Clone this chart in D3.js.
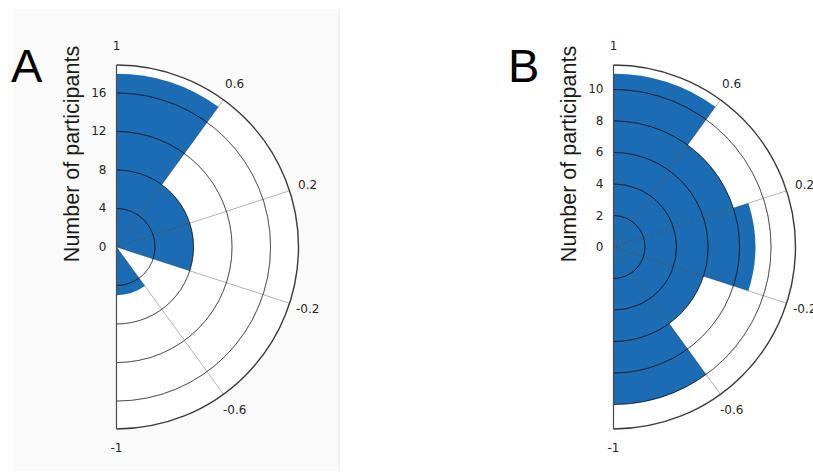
<!DOCTYPE html>
<html>
<head>
<meta charset="utf-8">
<script src="https://cdn.jsdelivr.net/npm/d3@7"></script>
<style>
  html, body { margin: 0; padding: 0; background: #ffffff; }
  svg { display: block; }
</style>
</head>
<body>
<svg id="chart" width="813" height="473"></svg>
<script>
// ---- data ----
const binEdges = [1, 0.6, 0.2, -0.2, -0.6, -1];
const angleTickLabels = ["1", "0.6", "0.2", "-0.2", "-0.6", "-1"];
const angleTickValues = [1, 0.6, 0.2, -0.2, -0.6, -1];
const countsA = [18, 8, 8, 0, 5];
const countsB = [11, 8, 9, 6, 10];
const radialTicksA = [0, 4, 8, 12, 16];
const radialTicksB = [0, 2, 4, 6, 8, 10];
const panelLetters = ["A", "B"];
const yAxisTitle = "Number of participants";

// ---- layout ----
const svg = d3.select("#chart");
const outerR = 182;
const barColor = "#1c6cb4";

// light panel background behind A
svg.append("rect").attr("x", 13).attr("y", 9).attr("width", 325).attr("height", 462)
  .attr("fill", "#fafafa");
svg.append("line").attr("x1", 339).attr("x2", 339).attr("y1", 9).attr("y2", 471)
  .attr("stroke", "#f0f0f0").attr("stroke-width", 2);

const panels = [
  { cx: 116.5, cy: 247, counts: countsA, ticks: radialTicksA, letter: panelLetters[0], letterX: 11 },
  { cx: 613.5, cy: 247, counts: countsB, ticks: radialTicksB, letter: panelLetters[1], letterX: 508 }
];

panels.forEach(p => {
  const g = svg.append("g").attr("transform", `translate(${p.cx},${p.cy})`);
  const rMax = d3.max(p.counts) * 1.05;
  const rScale = d3.scaleLinear().domain([0, rMax]).range([0, outerR]);
  const aScale = d3.scaleLinear().domain([1, -1]).range([0, Math.PI]);

  // white half-disc
  g.append("path")
    .attr("d", d3.arc()({ innerRadius: 0, outerRadius: outerR, startAngle: 0, endAngle: Math.PI }))
    .attr("fill", "#ffffff");

  // bars
  const bins = p.counts.map((c, i) => ({ c, a0: binEdges[i], a1: binEdges[i + 1] }));
  const arc = d3.arc()
    .innerRadius(0)
    .outerRadius(d => rScale(d.c))
    .startAngle(d => aScale(d.a0))
    .endAngle(d => aScale(d.a1));
  g.selectAll("path.bar").data(bins).enter().append("path")
    .attr("class", "bar")
    .attr("d", arc)
    .attr("fill", barColor);

  // ring grid
  const ringArc = d3.arc().innerRadius(d => rScale(d)).outerRadius(d => rScale(d))
    .startAngle(0).endAngle(Math.PI);
  g.selectAll("path.ring").data(p.ticks.filter(t => t > 0)).enter().append("path")
    .attr("class", "ring")
    .attr("d", ringArc)
    .attr("fill", "none")
    .attr("stroke", "#000")
    .attr("stroke-opacity", 0.42)
    .attr("stroke-width", 1);

  // radial grid
  g.selectAll("line.spoke").data(angleTickValues.slice(1, -1)).enter().append("line")
    .attr("class", "spoke")
    .attr("x1", 0).attr("y1", 0)
    .attr("x2", d => outerR * Math.sin(aScale(d)))
    .attr("y2", d => -outerR * Math.cos(aScale(d)))
    .attr("stroke", "#000")
    .attr("stroke-opacity", 0.3)
    .attr("stroke-width", 1);

  // outer boundary
  g.append("path")
    .attr("d", d3.arc()({ innerRadius: outerR, outerRadius: outerR, startAngle: 0, endAngle: Math.PI }))
    .attr("fill", "none").attr("stroke", "#3a3a3a").attr("stroke-width", 1.4);
  g.append("line").attr("x1", 0).attr("x2", 0).attr("y1", -outerR).attr("y2", outerR)
    .attr("stroke", "#4a4a4a").attr("stroke-width", 1.2);

  // angular tick labels
  g.selectAll("text.atick").data(angleTickValues).enter().append("text")
    .attr("class", "atick")
    .attr("x", d => 201 * Math.sin(aScale(d)))
    .attr("y", d => -201 * Math.cos(aScale(d)))
    .attr("text-anchor", "middle")
    .attr("dominant-baseline", "central")
    .attr("font-family", "DejaVu Sans")
    .attr("font-size", 12)
    .attr("fill", "#262626")
    .text((d, i) => angleTickLabels[i]);

  // radial tick labels
  g.selectAll("text.rtick").data(p.ticks).enter().append("text")
    .attr("class", "rtick")
    .attr("x", -10)
    .attr("y", d => -rScale(d))
    .attr("text-anchor", "end")
    .attr("dominant-baseline", "central")
    .attr("font-family", "DejaVu Sans")
    .attr("font-size", 12)
    .attr("fill", "#262626")
    .text(d => d);

  // axis title
  g.append("text")
    .attr("transform", `translate(-38,-93) rotate(-90)`)
    .attr("text-anchor", "middle")
    .attr("font-family", "Liberation Sans")
    .attr("font-size", 21.5)
    .attr("fill", "#1a1a1a")
    .text(yAxisTitle);

  // panel letter
  svg.append("text")
    .attr("x", p.letterX).attr("y", 82)
    .attr("font-family", "Liberation Sans")
    .attr("font-size", 47)
    .attr("fill", "#000")
    .text(p.letter);
});
</script>
</body>
</html>
